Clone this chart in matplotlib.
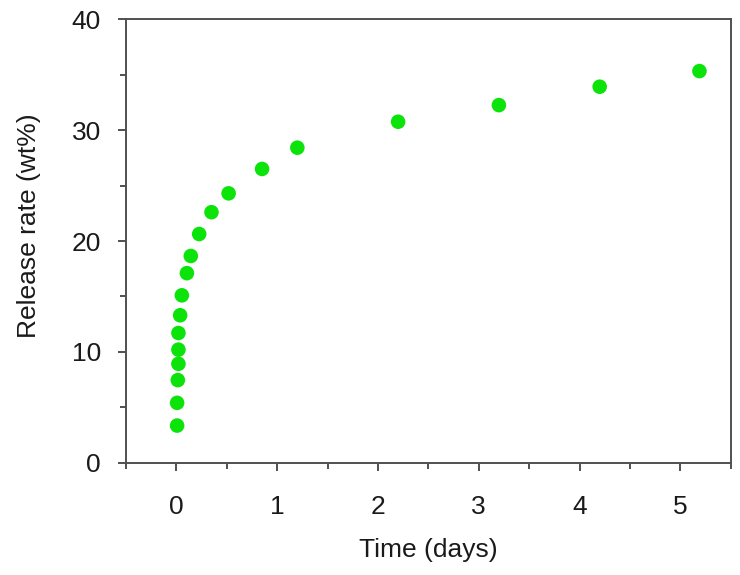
import matplotlib
matplotlib.use("Agg")
import matplotlib.pyplot as plt
from matplotlib.ticker import MultipleLocator

# release data
time_days = [0.007, 0.007, 0.014, 0.02, 0.02, 0.02, 0.037, 0.054, 0.104, 0.143,
             0.226, 0.348, 0.518, 0.85, 1.20, 2.2, 3.2, 4.2, 5.19]
release = [3.35, 5.4, 7.45, 8.92, 10.2, 11.7, 13.3, 15.1, 17.1, 18.65,
           20.63, 22.6, 24.3, 26.5, 28.42, 30.76, 32.26, 33.92, 35.33]

plt.rcParams['font.family'] = ['Liberation Sans', 'DejaVu Sans']

fig = plt.figure(figsize=(7.4, 5.75), dpi=100)
ax = fig.add_axes([0.1703, 0.1953, 0.8171, 0.7711])

ax.scatter(time_days, release, s=110, color='#0be30b', edgecolors='none', zorder=3)

ax.set_xlim(-0.5, 5.5)
ax.set_ylim(0, 40)
ax.xaxis.set_major_locator(MultipleLocator(1))
ax.xaxis.set_minor_locator(MultipleLocator(0.5))
ax.yaxis.set_major_locator(MultipleLocator(10))
ax.yaxis.set_minor_locator(MultipleLocator(5))

spine_col = '#505050'
for sp in ax.spines.values():
    sp.set_color(spine_col)
    sp.set_linewidth(1.4)

ax.tick_params(which='both', direction='out', color=spine_col, width=1.4,
               labelcolor='#1a1a1a', labelsize=19)
ax.tick_params(which='major', length=6)
ax.tick_params(which='minor', length=4)
ax.tick_params(axis='x', which='major', pad=17)
ax.tick_params(axis='y', which='major', pad=12)

ax.set_xlabel('Time (days)', fontsize=19, color='#1a1a1a')
ax.set_ylabel('Release rate (wt%)', fontsize=19, color='#1a1a1a')
ax.xaxis.set_label_coords(0.5, -0.17)
ax.yaxis.set_label_coords(-0.14, 0.534)

fig.savefig('out.png', dpi=100)
